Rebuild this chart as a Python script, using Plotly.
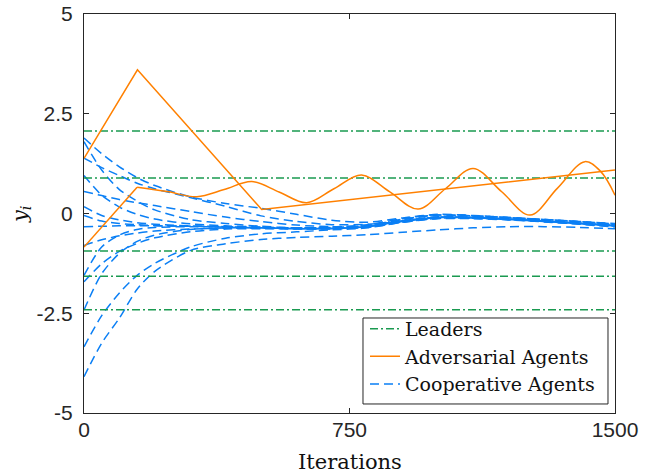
import plotly.graph_objects as go

# ---------------- data ----------------
iter_range = [0, 1500]
leader_values = [2.07, 0.89, -0.94, -1.57, -2.41]

# adversarial agent 1 (piecewise linear)
adv1_x = [0, 151, 502, 1500]
adv1_y = [1.38, 3.60, 0.10, 1.09]

# adversarial agent 2: linear rise, then oscillation
adv2a_x = [0, 150]
adv2a_y = [-0.84, 0.66]
adv2b_x = [150, 235, 319, 396, 474, 551, 629, 706, 784, 864, 944, 1021, 1099, 1180, 1260, 1337, 1415, 1460, 1500]
adv2b_y = [0.66, 0.55, 0.42, 0.60, 0.80, 0.54, 0.27, 0.62, 0.965, 0.54, 0.11, 0.62, 1.13, 0.545, -0.04, 0.63, 1.30, 1.05, 0.46]

# cooperative agents
coop_x = [0, 50, 100, 150, 200, 300, 400, 500, 600, 700, 800, 900, 1000, 1100, 1200, 1300, 1400, 1500]
coop_1 = [1.89, 1.50, 1.17, 0.90, 0.70, 0.42, 0.25, 0.13, -0.02, -0.17, -0.22, -0.11, -0.02, -0.05, -0.10, -0.15, -0.20, -0.25]
coop_2 = [1.80, 1.09, 0.60, 0.31, 0.09, -0.15, -0.25, -0.32, -0.36, -0.34, -0.28, -0.13, -0.03, -0.06, -0.11, -0.16, -0.21, -0.27]
coop_3 = [1.39, 1.15, 0.95, 0.76, 0.62, 0.40, 0.18, -0.06, -0.20, -0.28, -0.27, -0.20, -0.10, -0.11, -0.15, -0.20, -0.25, -0.31]
coop_4 = [0.95, 0.46, 0.16, -0.02, -0.14, -0.26, -0.31, -0.34, -0.36, -0.35, -0.30, -0.15, -0.04, -0.06, -0.10, -0.15, -0.20, -0.26]
coop_5 = [0.55, 0.45, 0.35, 0.27, 0.20, 0.05, -0.09, -0.20, -0.29, -0.33, -0.31, -0.19, -0.09, -0.10, -0.14, -0.19, -0.24, -0.30]
coop_6 = [0.17, -0.05, -0.16, -0.23, -0.27, -0.31, -0.33, -0.35, -0.37, -0.37, -0.33, -0.18, -0.08, -0.09, -0.13, -0.18, -0.23, -0.29]
coop_7 = [-0.05, -0.19, -0.25, -0.28, -0.30, -0.32, -0.34, -0.36, -0.38, -0.38, -0.34, -0.21, -0.12, -0.12, -0.15, -0.20, -0.26, -0.32]
coop_8 = [-0.33, -0.32, -0.31, -0.31, -0.31, -0.32, -0.33, -0.35, -0.37, -0.37, -0.32, -0.14, -0.04, -0.06, -0.10, -0.15, -0.21, -0.28]
coop_9 = [-0.80, -0.66, -0.56, -0.49, -0.44, -0.39, -0.37, -0.37, -0.38, -0.38, -0.35, -0.22, -0.13, -0.13, -0.16, -0.21, -0.27, -0.34]
coop_10 = [-1.55, -0.84, -0.54, -0.40, -0.35, -0.33, -0.34, -0.36, -0.38, -0.37, -0.33, -0.18, -0.09, -0.10, -0.14, -0.19, -0.24, -0.30]
coop_11 = [-1.71, -1.26, -0.95, -0.75, -0.61, -0.46, -0.39, -0.38, -0.39, -0.38, -0.34, -0.20, -0.11, -0.11, -0.15, -0.20, -0.25, -0.31]
coop_12 = [-2.42, -1.51, -1.00, -0.70, -0.54, -0.40, -0.36, -0.36, -0.38, -0.38, -0.33, -0.19, -0.10, -0.10, -0.14, -0.19, -0.25, -0.31]
coop_13 = [-3.34, -2.56, -1.99, -1.55, -1.25, -0.84, -0.62, -0.51, -0.46, -0.41, -0.36, -0.22, -0.12, -0.12, -0.15, -0.20, -0.26, -0.32]
coop_14 = [-4.09, -3.25, -2.62, -1.90, -1.45, -0.93, -0.76, -0.65, -0.60, -0.57, -0.53, -0.47, -0.41, -0.36, -0.33, -0.33, -0.35, -0.38]
coop_series = [coop_1, coop_2, coop_3, coop_4, coop_5, coop_6, coop_7,
               coop_8, coop_9, coop_10, coop_11, coop_12, coop_13, coop_14]

x_tickvals = [0, 750, 1500]
x_ticktext = ["0", "750", "1500"]
y_tickvals = [-5, -2.5, 0, 2.5, 5]
y_ticktext = ["-5", "-2.5", "0", "2.5", "5"]

# ---------------- styles ----------------
GREEN = "#1A9A50"
ORANGE = "#FF8000"
BLUE = "#0A7FF5"
AXC = "#262626"
SERIF = "DejaVu Serif"
SANS = "Liberation Sans"

fig = go.Figure()

for i, ys in enumerate(coop_series):
    fig.add_trace(go.Scatter(
        x=coop_x, y=ys, mode="lines",
        line=dict(color=BLUE, width=1.5, dash="9px,5px", shape="spline", smoothing=0.8),
        name="Cooperative Agents", legendgroup="coop", legendrank=3,
        showlegend=(i == 0), hoverinfo="skip"))

for i, lv in enumerate(leader_values):
    fig.add_trace(go.Scatter(
        x=iter_range, y=[lv, lv], mode="lines",
        line=dict(color=GREEN, width=1.5, dash="8px,3px,2px,3px"),
        name="Leaders", legendgroup="lead", legendrank=1,
        showlegend=(i == 0), hoverinfo="skip"))

fig.add_trace(go.Scatter(
    x=adv1_x, y=adv1_y, mode="lines", line=dict(color=ORANGE, width=1.5),
    name="Adversarial Agents", legendgroup="adv", legendrank=2, showlegend=True))
fig.add_trace(go.Scatter(
    x=adv2a_x, y=adv2a_y, mode="lines", line=dict(color=ORANGE, width=1.5),
    name="Adversarial Agents", legendgroup="adv", legendrank=2, showlegend=False))
fig.add_trace(go.Scatter(
    x=adv2b_x, y=adv2b_y, mode="lines",
    line=dict(color=ORANGE, width=1.5, shape="spline", smoothing=1.0),
    name="Adversarial Agents", legendgroup="adv", legendrank=2, showlegend=False))

axis_common = dict(
    showline=True, linecolor=AXC, linewidth=1, mirror="ticks",
    ticks="inside", ticklen=5, tickwidth=1, tickcolor=AXC,
    showgrid=False, zeroline=False, automargin=False,
    tickfont=dict(family=SANS, size=21, color=AXC),
)

fig.update_xaxes(range=iter_range, tickvals=x_tickvals, ticktext=x_ticktext,
                 ticklabelstandoff=-2, **axis_common)
fig.update_yaxes(range=[-5, 5], tickvals=y_tickvals, ticktext=y_ticktext,
                 ticklabelstandoff=6, **axis_common)

fig.update_layout(
    width=655, height=475,
    margin=dict(l=84, r=40, t=14, b=62),
    paper_bgcolor="white", plot_bgcolor="white",
    showlegend=True,
    legend=dict(
        x=0.5292, y=0.023, xanchor="left", yanchor="bottom",
        bgcolor="rgba(0,0,0,0)", borderwidth=0,
        font=dict(family=SERIF, size=19, color="#111111"),
        itemwidth=30, tracegroupgap=0, traceorder="normal",
    ),
    shapes=[
        dict(type="rect", xref="paper", yref="paper",
             x0=0.5254, x1=0.9868, y0=0.0226, y1=0.2381,
             fillcolor="white", line=dict(color=AXC, width=1), layer="above"),
    ],
    annotations=[
        dict(text="Iterations", xref="paper", yref="paper", x=0.501, y=-0.1228,
             xanchor="center", yanchor="middle", showarrow=False,
             font=dict(family=SERIF, size=21, color="#111111")),
        dict(text="<i>y</i><sub><i>i</i></sub>", xref="paper", yref="paper",
             x=-0.1186, y=0.4987, xanchor="center", yanchor="middle",
             textangle=-90, showarrow=False,
             font=dict(family=SERIF, size=21, color="#111111")),
    ],
)

fig.write_html("out.html")
